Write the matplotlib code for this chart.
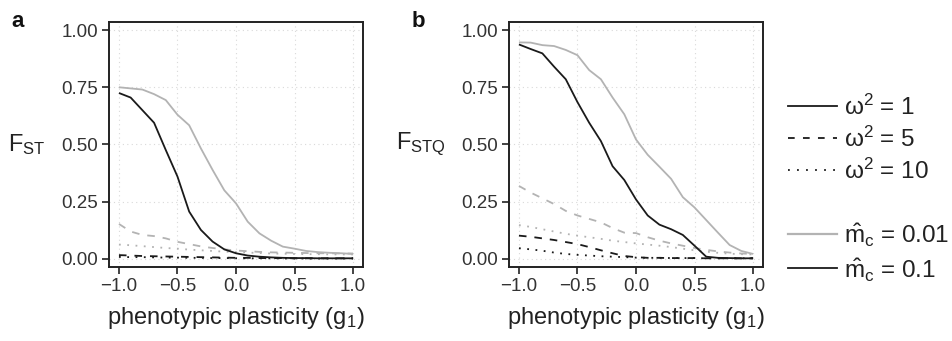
import numpy as np
import matplotlib
matplotlib.use("Agg")
import matplotlib.pyplot as plt
from matplotlib.lines import Line2D

plt.rcParams['font.family'] = ['Liberation Sans', 'DejaVu Sans']
plt.rcParams['mathtext.fontset'] = 'custom'
plt.rcParams['mathtext.rm'] = 'Liberation Sans'
plt.rcParams['mathtext.it'] = 'Liberation Sans:italic'
plt.rcParams['mathtext.bf'] = 'Liberation Sans:bold'

# ---------------- data ----------------
g1 = [-1.0, -0.9, -0.8, -0.7, -0.6, -0.5, -0.4, -0.3, -0.2, -0.1, 0.0,
      0.1, 0.2, 0.3, 0.4, 0.5, 0.6, 0.7, 0.8, 0.9, 1.0]

# panel a: F_ST
a_w1_m001 = [0.750, 0.745, 0.740, 0.720, 0.694, 0.630, 0.584, 0.483, 0.389, 0.300, 0.243,
             0.163, 0.112, 0.080, 0.054, 0.045, 0.035, 0.030, 0.027, 0.025, 0.022]
a_w1_m01 = [0.725, 0.705, 0.650, 0.595, 0.476, 0.360, 0.207, 0.127, 0.076, 0.042, 0.025,
            0.015, 0.010, 0.007, 0.005, 0.004, 0.004, 0.003, 0.003, 0.003, 0.003]
a_w5_m001 = [0.153, 0.120, 0.105, 0.100, 0.090, 0.075, 0.065, 0.055, 0.048, 0.042, 0.037,
             0.034, 0.031, 0.029, 0.028, 0.027, 0.026, 0.025, 0.025, 0.024, 0.024]
a_w5_m01 = [0.017, 0.015, 0.013, 0.012, 0.011, 0.010, 0.009, 0.008, 0.007, 0.006, 0.005,
            0.005, 0.004, 0.004, 0.004, 0.003, 0.003, 0.003, 0.003, 0.003, 0.003]
a_w10_m001 = [0.063, 0.060, 0.056, 0.052, 0.048, 0.045, 0.041, 0.038, 0.035, 0.032, 0.030,
              0.028, 0.026, 0.024, 0.023, 0.022, 0.021, 0.021, 0.020, 0.020, 0.020]
a_w10_m01 = [0.009, 0.008, 0.008, 0.007, 0.006, 0.006, 0.005, 0.005, 0.004, 0.004, 0.003,
             0.003, 0.003, 0.003, 0.002, 0.002, 0.002, 0.002, 0.002, 0.002, 0.002]

# panel b: F_STQ
b_w1_m001 = [0.946, 0.945, 0.934, 0.930, 0.913, 0.890, 0.825, 0.785, 0.705, 0.632, 0.522,
             0.455, 0.403, 0.350, 0.270, 0.225, 0.170, 0.115, 0.061, 0.035, 0.022]
b_w1_m01 = [0.937, 0.917, 0.898, 0.840, 0.785, 0.685, 0.595, 0.515, 0.405, 0.345, 0.260,
            0.190, 0.150, 0.130, 0.105, 0.058, 0.010, 0.005, 0.004, 0.003, 0.003]
b_w5_m001 = [0.319, 0.290, 0.265, 0.240, 0.210, 0.190, 0.175, 0.160, 0.135, 0.115, 0.113,
             0.095, 0.080, 0.068, 0.058, 0.048, 0.040, 0.033, 0.028, 0.024, 0.022]
b_w5_m01 = [0.102, 0.097, 0.090, 0.083, 0.074, 0.065, 0.052, 0.038, 0.025, 0.013, 0.008,
            0.005, 0.005, 0.004, 0.004, 0.004, 0.003, 0.003, 0.003, 0.003, 0.003]
b_w10_m001 = [0.148, 0.140, 0.130, 0.120, 0.110, 0.102, 0.095, 0.088, 0.080, 0.074, 0.068,
              0.063, 0.058, 0.052, 0.045, 0.038, 0.032, 0.027, 0.023, 0.021, 0.020]
b_w10_m01 = [0.047, 0.042, 0.036, 0.028, 0.022, 0.018, 0.015, 0.012, 0.010, 0.008, 0.006,
             0.005, 0.005, 0.004, 0.004, 0.004, 0.003, 0.003, 0.003, 0.003, 0.003]

x_ticks = [-1.0, -0.5, 0.0, 0.5, 1.0]
x_ticklabels = ['\u22121.0', '\u22120.5', '0.0', '0.5', '1.0']
y_ticks = [0.0, 0.25, 0.5, 0.75, 1.0]
y_ticklabels = ['0.00', '0.25', '0.50', '0.75', '1.00']

GRAY = '#b3b3b3'
BLACK = '#1a1a1a'
LW = 1.3
styles = {
    'w1': '-',
    'w5': (0, (4.2, 4.4)),
    'w10': (0, (1.0, 3.6)),
}

fig = plt.figure(figsize=(9.53, 3.41), dpi=100)
W, H = 953, 341
ax_a = fig.add_axes([109 / W, 1 - 267 / H, 254 / W, 245 / H])
ax_b = fig.add_axes([509 / W, 1 - 267 / H, 254 / W, 245 / H])

panels = [
    (ax_a, 'a', r'F$_{\mathrm{ST}}$',
     [(a_w1_m001, 'w1', GRAY), (a_w5_m001, 'w5', GRAY), (a_w10_m001, 'w10', GRAY),
      (a_w1_m01, 'w1', BLACK), (a_w5_m01, 'w5', BLACK), (a_w10_m01, 'w10', BLACK)]),
    (ax_b, 'b', r'F$_{\mathrm{STQ}}$',
     [(b_w1_m001, 'w1', GRAY), (b_w5_m001, 'w5', GRAY), (b_w10_m001, 'w10', GRAY),
      (b_w1_m01, 'w1', BLACK), (b_w5_m01, 'w5', BLACK), (b_w10_m01, 'w10', BLACK)]),
]

for ax, letter, ylab, series in panels:
    for vals, key, col in series:
        ax.plot(g1, vals, color=col, lw=LW, linestyle=styles[key],
                solid_capstyle='butt', dash_capstyle='butt')
    ax.set_xlim(-1.085, 1.085)
    ax.set_ylim(-0.035, 1.035)
    ax.set_xticks(x_ticks)
    ax.set_xticklabels(x_ticklabels)
    ax.set_yticks(y_ticks)
    ax.set_yticklabels(y_ticklabels)
    ax.grid(True, color='#d9d9d9', linestyle=(0, (1, 3)), lw=0.8)
    ax.set_axisbelow(True)
    for s in ax.spines.values():
        s.set_linewidth(1.4)
        s.set_color('#222222')
    ax.tick_params(direction='out', length=5, width=1.2, color='#222222',
                   labelsize=13.5, labelcolor='#333333', pad=3)
    ax.set_xlabel(r'phenotypic plasticity (g$_{1}$)', fontsize=17, color='#222222',
                  labelpad=7)
    ax.set_ylabel(ylab, fontsize=17, rotation=0, ha='right', va='center',
                  color='#222222')
    ax.yaxis.set_label_coords(-0.25, 0.5)
    ax.text(-0.385, 0.98, letter, transform=ax.transAxes, fontsize=16,
            fontweight='bold', ha='left', va='baseline', color='#111111')

handles = [
    Line2D([], [], color=BLACK, lw=LW, linestyle=styles['w1']),
    Line2D([], [], color=BLACK, lw=LW, linestyle=(0, (3.7, 4.6))),
    Line2D([], [], color=BLACK, lw=LW, linestyle=(0, (1.0, 4.0))),
    Line2D([], [], color='none', lw=0),
    Line2D([], [], color=GRAY, lw=LW + 0.3),
    Line2D([], [], color=BLACK, lw=LW),
]
labels = [r'$\mathrm{\omega}^{2}$ = 1', r'$\mathrm{\omega}^{2}$ = 5',
          r'$\mathrm{\omega}^{2}$ = 10', '',
          r'$\hat{\mathrm{m}}_{\mathrm{c}}$ = 0.01', r'$\hat{\mathrm{m}}_{\mathrm{c}}$ = 0.1']
leg = fig.legend(handles, labels, loc='upper left',
                 bbox_to_anchor=(788 / W, 1 - 95 / H), frameon=False,
                 fontsize=17.5, handlelength=2.0, handletextpad=0.3,
                 handleheight=1.0, labelspacing=0.28, borderpad=0, borderaxespad=0)
for t in leg.get_texts():
    t.set_color('#222222')

fig.savefig('out.png', dpi=100)
